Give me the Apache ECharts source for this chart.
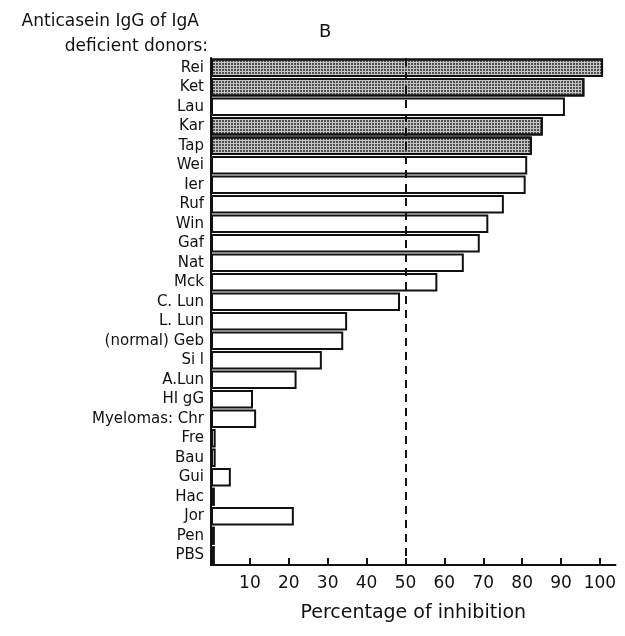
<!DOCTYPE html>
<html>
<head>
<meta charset="utf-8">
<script src="https://cdn.jsdelivr.net/npm/echarts@6/dist/echarts.min.js"></script>
<style>
  html, body { margin: 0; padding: 0; background: #fff; }
  #chart { width: 625px; height: 636px; }
</style>
</head>
<body>
<div id="chart"></div>
<script>
var donors = ['Rei', 'Ket', 'Lau', 'Kar', 'Tap', 'Wei', 'Ier', 'Ruf', 'Win', 'Gaf',
    'Nat', 'Mck', 'C. Lun', 'L. Lun', '(normal) Geb', 'Si l', 'A.Lun', 'HI gG',
    'Myelomas: Chr', 'Fre', 'Bau', 'Gui', 'Hac', 'Jor', 'Pen', 'PBS'];
var inhibition = [100.8, 96, 91, 85.3, 82.5, 81.3, 80.9, 75.3, 71.3, 69.1,
    65, 58.2, 48.6, 35, 34, 28.5, 22, 10.8, 11.6, 1.2, 1.2, 5.1, 1, 21.3, 1, 1];
var shaded = ['Rei', 'Ket', 'Kar', 'Tap'];
var xTicks = [10, 20, 30, 40, 50, 60, 70, 80, 90, 100];
var threshold = 50;

var ink = '#111';
var font = 'DejaVu Sans';

var barData = [];
for (var i = 0; i < donors.length; i++) {
    var item = { value: inhibition[i] };
    if (shaded.indexOf(donors[i]) >= 0) {
        item.itemStyle = {
            color: '#c4c4c4',
            decal: {
                symbol: 'circle',
                symbolSize: 1,
                dashArrayX: [2, 1],
                dashArrayY: [2, 1],
                color: '#2a2a2a'
            }
        };
    }
    barData.push(item);
}

var myChart = echarts.init(document.getElementById('chart'));
var option = {
    animation: false,
    backgroundColor: '#fff',
    title: [
        {
            text: 'B',
            left: 314,
            top: 18,
            textStyle: { fontFamily: font, fontSize: 18, fontWeight: 'normal', color: ink }
        },
        {
            text: 'Anticasein IgG of IgA',
            right: 421,
            top: 8,
            textStyle: { fontFamily: font, fontSize: 17, fontWeight: 'normal', color: ink }
        },
        {
            text: 'deficient donors:',
            right: 412,
            top: 33,
            textStyle: { fontFamily: font, fontSize: 17, fontWeight: 'normal', color: ink }
        }
    ],
    grid: { left: 211, top: 58, width: 404.5, bottom: 71 },
    xAxis: {
        type: 'value',
        min: 0,
        max: 104,
        interval: 10,
        splitLine: { show: false },
        axisLine: { show: true, lineStyle: { color: ink, width: 2 } },
        axisTick: { show: true, inside: true, length: 7, customValues: xTicks, lineStyle: { color: ink, width: 2 } },
        axisLabel: { customValues: xTicks, fontFamily: font, fontSize: 17, color: ink, margin: 10 },
        name: 'Percentage of inhibition',
        nameLocation: 'middle',
        nameGap: 39,
        nameTextStyle: { fontFamily: font, fontSize: 19, color: ink }
    },
    yAxis: {
        type: 'category',
        inverse: true,
        data: donors,
        axisLine: { show: true, lineStyle: { color: ink, width: 2 } },
        axisTick: { show: false },
        axisLabel: { interval: 0, fontFamily: font, fontSize: 15, color: ink, margin: 7 }
    },
    series: [
        {
            type: 'bar',
            data: barData,
            barCategoryGap: '6%',
            itemStyle: { color: '#fff', borderColor: ink, borderWidth: 2 },
            markLine: {
                silent: true,
                symbol: 'none',
                label: { show: false },
                lineStyle: { color: ink, width: 2, type: [8, 6] },
                data: [{ xAxis: threshold }]
            }
        }
    ]
};
myChart.setOption(option);
</script>
</body>
</html>
